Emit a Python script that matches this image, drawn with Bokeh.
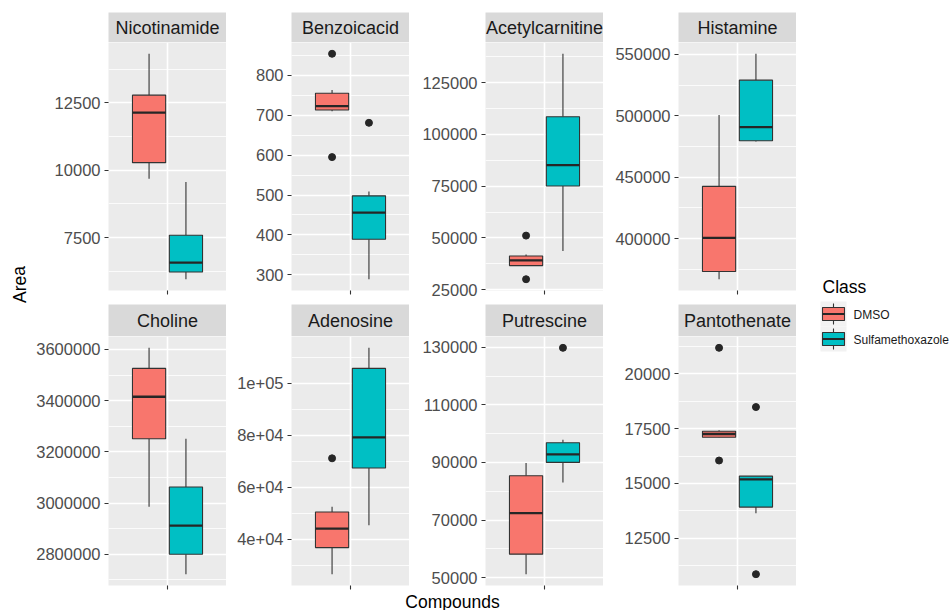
from bokeh.plotting import figure
from bokeh.layouts import row, column
from bokeh.models import Range1d, FixedTicker, CustomJSTickFormatter
from bokeh.core.properties import value
from bokeh.embed import file_html
from bokeh.resources import INLINE

# ---------------- data ----------------
compounds = ["Nicotinamide", "Benzoicacid", "Acetylcarnitine", "Histamine",
             "Choline", "Adenosine", "Putrescine", "Pantothenate"]
classes = ["DMSO", "Sulfamethoxazole"]
class_colors = ["#F8766D", "#00BFC4"]

dmso_lower  = [9685, 710, 36400, 366850, 2985820, 26540, 51190, 17100]
dmso_q1     = [10278, 713, 36600, 373100, 3251160, 36770, 58150, 17105]
dmso_median = [12130, 723, 39150, 400470, 3415050, 44080, 72400, 17255]
dmso_q3     = [12781, 755, 41230, 442550, 3525860, 50500, 85380, 17378]
dmso_upper  = [14315, 763, 41900, 500590, 3606240, 52540, 89790, 17423]
dmso_outliers = [[], [854, 595], [51086, 30000], [], [], [71155], [], [21182, 16046]]

sulfa_lower  = [5956, 289, 43645, 479180, 2722050, 45390, 83050, 13637]
sulfa_q1     = [6226, 389, 75048, 479750, 2800100, 67425, 90000, 13923]
sulfa_median = [6574, 456, 85193, 490820, 2911710, 79230, 92790, 15182]
sulfa_q3     = [7585, 498, 108575, 529080, 3062700, 105770, 96850, 15332]
sulfa_upper  = [9560, 509, 139000, 550570, 3251160, 113690, 97900, 15332]
sulfa_outliers = [[], [681], [], [], [], [], [129790], [18482, 10865]]

tick_values = [
    [7500, 10000, 12500],
    [300, 400, 500, 600, 700, 800],
    [25000, 50000, 75000, 100000, 125000],
    [400000, 450000, 500000, 550000],
    [2800000, 3000000, 3200000, 3400000, 3600000],
    [40000, 60000, 80000, 100000],
    [50000, 70000, 90000, 110000, 130000],
    [12500, 15000, 17500, 20000],
]
tick_labels = [
    ["7500", "10000", "12500"],
    ["300", "400", "500", "600", "700", "800"],
    ["25000", "50000", "75000", "100000", "125000"],
    ["400000", "450000", "500000", "550000"],
    ["2800000", "3000000", "3200000", "3400000", "3600000"],
    ["4e+04", "6e+04", "8e+04", "1e+05"],
    ["50000", "70000", "90000", "110000", "130000"],
    ["12500", "15000", "17500", "20000"],
]

# ---------------- styling ----------------
FONT = "Liberation Sans"
PANEL_BG = "#EBEBEB"
STRIP_BG = "#D9D9D9"
LINE = "#333333"

col_widths = [196, 183, 194, 193]
col_lefts = [78, 65, 76, 75]
STRIP_H = [30, 32]
STRIP_TOP = [12, 0]
ROW_FRAME = [248, 249]
ROW_BOTTOM = [14, 6]
XLAB_H = 19

dodge = 0.1875
half_w = 0.16875


def hide_grid(f):
    f.grid.visible = False


def minor_ticks(ticks):
    step = ticks[1] - ticks[0]
    return [ticks[0] - step / 2] + [t + step / 2 for t in ticks]


def strip(i, left, width, h, top):
    s = figure(width=width, height=h + top, x_range=Range1d(0, 1), y_range=Range1d(0, 1),
               min_border_left=left, min_border_right=0, min_border_top=top, min_border_bottom=0,
               x_axis_location=None, y_axis_location=None, output_backend="svg",
               toolbar_location=None, background_fill_color=STRIP_BG, border_fill_color="white",
               outline_line_color=None)
    hide_grid(s)
    s.text(x=[0.5], y=[0.5], text=[compounds[i]], text_align="center", text_baseline="middle",
           text_font=value(FONT), text_font_size="18px", text_color="#1A1A1A")
    return s


def panel(i, left, width, frame_h, bottom):
    lows = [dmso_lower[i], sulfa_lower[i]] + dmso_outliers[i] + sulfa_outliers[i]
    highs = [dmso_upper[i], sulfa_upper[i]] + dmso_outliers[i] + sulfa_outliers[i]
    lo, hi = min(lows), max(highs)
    pad = 0.05 * (hi - lo)
    p = figure(width=width, height=frame_h + bottom, x_range=Range1d(0.4, 1.6),
               y_range=Range1d(lo - pad, hi + pad),
               min_border_left=left, min_border_right=0, min_border_top=0, min_border_bottom=bottom,
               output_backend="svg", toolbar_location=None, background_fill_color=PANEL_BG,
               border_fill_color="white", outline_line_color=None)
    yt = FixedTicker(ticks=tick_values[i], minor_ticks=minor_ticks(tick_values[i]))
    p.yaxis.ticker = yt
    p.ygrid.ticker = yt
    p.yaxis.formatter = CustomJSTickFormatter(
        args=dict(v=tick_values[i], l=tick_labels[i]),
        code="const k = v.indexOf(tick); return k >= 0 ? l[k] : '';")
    p.yaxis.axis_line_color = None
    p.yaxis.major_tick_out = 4
    p.yaxis.major_tick_in = 0
    p.yaxis.minor_tick_line_color = None
    p.yaxis.major_tick_line_color = LINE
    p.yaxis.major_tick_line_width = 1.1
    p.yaxis.major_label_standoff = 4
    p.yaxis.major_label_text_font = FONT
    p.yaxis.major_label_text_font_size = "16.5px"
    p.yaxis.major_label_text_color = "#4D4D4D"

    xt = FixedTicker(ticks=[1], minor_ticks=[])
    p.xaxis.ticker = xt
    p.xgrid.ticker = xt
    p.xaxis.formatter = CustomJSTickFormatter(code="return '';")
    p.xaxis.major_label_text_font_size = "0px"
    p.xaxis.major_label_standoff = 0
    p.xaxis.axis_line_color = None
    p.xaxis.major_tick_out = 4
    p.xaxis.major_tick_in = 0
    p.xaxis.minor_tick_line_color = None
    p.xaxis.major_tick_line_color = LINE
    p.xaxis.major_tick_line_width = 1.1

    p.grid.grid_line_color = "white"
    p.grid.grid_line_width = 1.6
    p.ygrid.minor_grid_line_color = "white"
    p.ygrid.minor_grid_line_width = 0.8

    stats = [
        (dmso_lower[i], dmso_q1[i], dmso_median[i], dmso_q3[i], dmso_upper[i], dmso_outliers[i]),
        (sulfa_lower[i], sulfa_q1[i], sulfa_median[i], sulfa_q3[i], sulfa_upper[i], sulfa_outliers[i]),
    ]
    for c, (lw, q1, md, q3, uw, outs) in enumerate(stats):
        x = 1 + (2 * c - 1) * dodge
        p.segment(x0=[x, x], y0=[q3, q1], x1=[x, x], y1=[uw, lw], line_color=LINE, line_width=1.1)
        p.quad(left=[x - half_w], right=[x + half_w], bottom=[q1], top=[q3],
               fill_color=class_colors[c], line_color=LINE, line_width=1.1)
        p.segment(x0=[x - half_w], x1=[x + half_w], y0=[md], y1=[md], line_color="#262626", line_width=2.3)
        if outs:
            p.scatter(x=[x] * len(outs), y=outs, size=7, color="#262626")
    return p


rows = []
for r in range(2):
    cols = []
    for c in range(4):
        i = r * 4 + c
        cols.append(column(strip(i, col_lefts[c], col_widths[c], STRIP_H[r], STRIP_TOP[r]),
                           panel(i, col_lefts[c], col_widths[c], ROW_FRAME[r], ROW_BOTTOM[r]),
                           spacing=0))
    rows.append(row(*cols, spacing=0))

TOTAL_W = sum(col_widths)
xlab = figure(width=TOTAL_W, height=XLAB_H, x_range=Range1d(0, TOTAL_W), y_range=Range1d(XLAB_H, 0),
              min_border=0, x_axis_location=None, y_axis_location=None, output_backend="svg",
              toolbar_location=None, outline_line_color=None, border_fill_color="white",
              background_fill_color="white")
hide_grid(xlab)
xlab.text(x=[(col_lefts[0] + TOTAL_W) / 2], y=[10], text=["Compounds"], text_align="center",
          text_baseline="middle", text_font=value(FONT), text_font_size="17.5px", text_color="black")

TOTAL_H = sum(STRIP_H) + sum(STRIP_TOP) + sum(ROW_FRAME) + sum(ROW_BOTTOM) + XLAB_H
YLAB_W = 30
ylab = figure(width=YLAB_W, height=TOTAL_H, x_range=Range1d(0, YLAB_W), y_range=Range1d(TOTAL_H, 0),
              min_border=0, x_axis_location=None, y_axis_location=None, output_backend="svg",
              toolbar_location=None, outline_line_color=None, border_fill_color="white",
              background_fill_color="white")
hide_grid(ylab)
ylab.text(x=[19], y=[284], text=["Area"], angle=1.5708, text_align="center", text_baseline="middle",
          text_font=value(FONT), text_font_size="17.5px", text_color="black")

LEG_W = 155
leg = figure(width=LEG_W, height=TOTAL_H, x_range=Range1d(0, LEG_W), y_range=Range1d(TOTAL_H, 0),
             min_border=0, x_axis_location=None, y_axis_location=None, output_backend="svg",
             toolbar_location=None, outline_line_color=None, border_fill_color="white",
             background_fill_color="white")
hide_grid(leg)
leg.text(x=[26], y=[286], text=["Class"], text_align="left", text_baseline="middle",
         text_font=value(FONT), text_font_size="17.5px", text_color="black")
for k in range(2):
    y0 = 301 + 25 * k
    leg.quad(left=[24], right=[50], top=[y0], bottom=[y0 + 25], fill_color="#F2F2F2", line_color=None)
    leg.segment(x0=[37], x1=[37], y0=[y0 + 2], y1=[y0 + 23], line_color=LINE, line_width=1.1)
    leg.quad(left=[26], right=[48], top=[y0 + 6], bottom=[y0 + 19], fill_color=class_colors[k],
             line_color=LINE, line_width=1.1)
    leg.segment(x0=[26], x1=[48], y0=[y0 + 12.5], y1=[y0 + 12.5], line_color="#262626", line_width=2)
    leg.text(x=[57], y=[y0 + 13], text=[classes[k]], text_align="left", text_baseline="middle",
             text_font=value(FONT), text_font_size="12px", text_color="#1A1A1A")

layout = row(ylab, column(rows[0], rows[1], xlab, spacing=0), leg, spacing=0)

open("out.html", "w").write(file_html(layout, INLINE))
